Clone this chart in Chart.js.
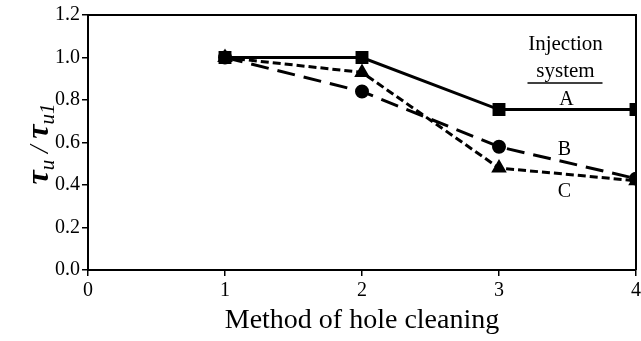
<!DOCTYPE html>
<html>
<head>
<meta charset="utf-8">
<script src="https://cdn.jsdelivr.net/npm/chart.js@4"></script>
<style>
  body { margin: 0; background: #fff; overflow: hidden; }
  #wrap { width: 646px; height: 341px; }
</style>
</head>
<body>
<div id="wrap"><canvas id="grafico"></canvas></div>
<script>
const metodos = [1, 2, 3, 4];
const sistemaA = [1.0, 1.0, 0.755, 0.755];
const sistemaB = [1.0, 0.84, 0.58, 0.43];
const sistemaC = [1.0, 0.93, 0.48, 0.42];
const ticksX = [0, 1, 2, 3, 4];
const ticksY = [0, 0.2, 0.4, 0.6, 0.8, 1.0, 1.2];

const serif = "'Liberation Serif', 'Times New Roman', serif";

function puntos(valores) {
  return metodos.map((m, i) => ({ x: m, y: valores[i] }));
}

// marco, titulo del eje y y etiquetas del grafico
const extras = {
  id: "extras",
  afterDraw(chart) {
    const ctx = chart.ctx;
    const area = chart.chartArea;
    const sx = chart.scales.x;
    const sy = chart.scales.y;
    ctx.save();
    ctx.strokeStyle = "#000";
    ctx.lineWidth = 2;
    ctx.beginPath();
    ctx.moveTo(area.left, area.top);
    ctx.lineTo(area.right, area.top);
    ctx.lineTo(area.right, area.bottom);
    ctx.stroke();

    ctx.fillStyle = "#000";
    ctx.textAlign = "center";
    ctx.textBaseline = "middle";
    const cx = sx.getPixelForValue(3.5);
    ctx.font = "21px " + serif;
    ctx.fillText("Injection", cx - 2, sy.getPixelForValue(1.059));
    ctx.fillText("system", cx - 2, sy.getPixelForValue(0.932));
    ctx.lineWidth = 1.5;
    ctx.beginPath();
    ctx.moveTo(cx - 40, sy.getPixelForValue(0.88));
    ctx.lineTo(cx + 35, sy.getPixelForValue(0.88));
    ctx.stroke();
    ctx.font = "20px " + serif;
    ctx.fillText("A", cx - 1, sy.getPixelForValue(0.8));
    ctx.fillText("B", cx - 3, sy.getPixelForValue(0.565));
    ctx.fillText("C", cx - 3, sy.getPixelForValue(0.367));

    // titulo eje y: tau_u / tau_u1
    ctx.translate(38, 144);
    ctx.rotate(-Math.PI / 2);
    ctx.textAlign = "left";
    ctx.textBaseline = "alphabetic";
    const partes = [
      ["τ", "bold italic 32px ", 0],
      ["u", "italic 21px ", 6],
      [" / ", "italic 27px ", 0],
      ["τ", "bold italic 32px ", 0],
      ["u1", "italic 21px ", 6]
    ];
    let ancho = 0;
    partes.forEach(p => { ctx.font = p[1] + serif; ancho += ctx.measureText(p[0]).width; });
    let x = -ancho / 2;
    partes.forEach(p => {
      ctx.font = p[1] + serif;
      ctx.fillText(p[0], x, 10 + p[2]);
      x += ctx.measureText(p[0]).width;
    });
    ctx.restore();
  }
};

const ctx = document.getElementById("grafico").getContext("2d");
new Chart(ctx, {
  type: "line",
  data: {
    datasets: [
      {
        label: "A",
        data: puntos(sistemaA),
        borderColor: "#000",
        backgroundColor: "#000",
        borderWidth: 3,
        pointStyle: "rect",
        pointRadius: 7,
        pointHoverRadius: 7
      },
      {
        label: "B",
        data: puntos(sistemaB),
        borderColor: "#000",
        backgroundColor: "#000",
        borderWidth: 3,
        borderDash: [18, 9],
        pointStyle: "circle",
        pointRadius: 5.5,
        pointHoverRadius: 5.5
      },
      {
        label: "C",
        data: puntos(sistemaC),
        borderColor: "#000",
        backgroundColor: "#000",
        borderWidth: 3,
        borderDash: [8, 4],
        pointStyle: "triangle",
        pointRadius: 6,
        pointHoverRadius: 6
      }
    ]
  },
  options: {
    responsive: true,
    maintainAspectRatio: false,
    animation: false,
    layout: { padding: { top: 15, right: 0, left: 0, bottom: 0 } },
    plugins: { legend: { display: false }, tooltip: { enabled: false } },
    scales: {
      x: {
        type: "linear",
        min: 0,
        max: 4,
        afterBuildTicks: s => { s.ticks = ticksX.map(v => ({ value: v })); },
        afterFit: s => { s.height = 71; },
        border: { color: "#000", width: 2 },
        grid: { drawOnChartArea: false, color: "#000", tickLength: 6, lineWidth: 1.5 },
        ticks: { color: "#000", font: { family: serif, size: 20 }, padding: 3, maxRotation: 0 },
        title: {
          display: true,
          text: "Method of hole cleaning",
          color: "#000",
          font: { family: serif, size: 28 },
          padding: { top: 0 }
        }
      },
      y: {
        min: 0,
        max: 1.2,
        afterBuildTicks: s => { s.ticks = ticksY.map(v => ({ value: v })); },
        afterFit: s => { s.width = 88; },
        border: { color: "#000", width: 2 },
        grid: { drawOnChartArea: false, color: "#000", tickLength: 6, lineWidth: 1.5 },
        ticks: {
          color: "#000",
          font: { family: serif, size: 20 },
          padding: 2,
          callback: v => v.toFixed(1)
        }
      }
    }
  },
  plugins: [extras]
});
</script>
</body>
</html>
